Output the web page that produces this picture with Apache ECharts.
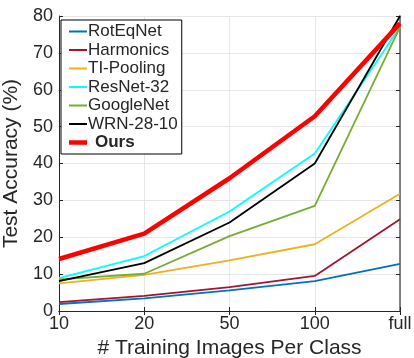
<!DOCTYPE html>
<html>
<head>
<meta charset="utf-8">
<script src="https://cdn.jsdelivr.net/npm/echarts@6/dist/echarts.min.js"></script>
<style>
  html, body { margin: 0; padding: 0; background: #fff; }
  #main { width: 414px; height: 358px; }
</style>
</head>
<body>
<div id="main"></div>
<script>
// categories and series values
const categories = ['10', '20', '50', '100', 'full']
const rotEqNet = [1.9, 3.4, 5.6, 8.1, 12.8]
const harmonics = [2.4, 4.1, 6.5, 9.5, 24.9]
const tiPooling = [7.5, 9.8, 13.7, 18.1, 31.8]
const resNet32 = [8.9, 14.9, 27.0, 42.7, 77.0]
const googleNet = [8.6, 10.1, 20.3, 28.5, 77.0]
const wrn2810 = [8.1, 13.0, 24.0, 40.0, 80.0]
const ours = [14.1, 21.0, 36.0, 52.8, 78.0]

const font = 'Liberation Sans, Arial, Helvetica, sans-serif'
const textColor = '#262626'
const thinIcon = 'path://M0,0H18V2H0Z'
const thickIcon = 'path://M0,0H18V4.5H0Z'

function line (name, data, color, width) {
  return {
    name: name,
    type: 'line',
    data: data,
    symbol: 'none',
    showSymbol: false,
    lineStyle: { color: color, width: width },
    itemStyle: { color: color },
    z: width > 3 ? 10 : 3
  }
}

const chart = echarts.init(document.getElementById('main'))
chart.setOption({
  animation: false,
  textStyle: { fontFamily: font },
  grid: { left: 59, right: 14, top: 16, bottom: 47, containLabel: false, outerBoundsMode: 'none' },
  legend: {
    orient: 'vertical',
    left: 61,
    top: 20,
    itemWidth: 18,
    itemHeight: 14,
    itemGap: 1.5,
    padding: [3, 4, 3, 8],
    borderColor: '#000',
    borderWidth: 1,
    borderRadius: 0,
    backgroundColor: '#fff',
    textStyle: { fontFamily: font, fontSize: 17, lineHeight: 17, color: textColor, padding: [0, 0, 0, -4] },
    data: [
      { name: 'RotEqNet', icon: thinIcon },
      { name: 'Harmonics', icon: thinIcon },
      { name: 'TI-Pooling', icon: thinIcon },
      { name: 'ResNet-32', icon: thinIcon },
      { name: 'GoogleNet', icon: thinIcon },
      { name: 'WRN-28-10', icon: thinIcon },
      { name: 'Ours', icon: thickIcon, textStyle: { fontWeight: 'bold', padding: [0, 0, 0, 3] } }
    ]
  },
  xAxis: [
    {
      type: 'category',
      data: categories,
      boundaryGap: false,
      name: '# Training Images Per Class',
      nameLocation: 'middle',
      nameGap: 23,
      nameTextStyle: { fontSize: 21, color: textColor },
      axisLine: { lineStyle: { color: '#262626', width: 1 } },
      axisTick: { inside: true, length: 4, lineStyle: { color: '#262626' } },
      axisLabel: { fontSize: 18, color: textColor, margin: 4 },
      splitLine: { show: true, lineStyle: { color: '#e6e6e6', width: 1 } }
    },
    {
      type: 'category',
      data: categories,
      boundaryGap: false,
      position: 'top',
      axisLine: { lineStyle: { color: '#262626', width: 1 } },
      axisTick: { inside: true, length: 4, lineStyle: { color: '#262626' } },
      axisLabel: { show: false },
      splitLine: { show: false }
    }
  ],
  yAxis: [
    {
      type: 'value',
      min: 0,
      max: 80,
      interval: 10,
      name: 'Test Accuracy (%)',
      nameLocation: 'middle',
      nameGap: 26,
      nameTextStyle: { fontSize: 21, color: textColor },
      axisLine: { show: true, lineStyle: { color: '#262626', width: 1 } },
      axisTick: { show: true, inside: true, length: 4, lineStyle: { color: '#262626' } },
      axisLabel: { fontSize: 18, color: textColor, margin: 6 },
      splitLine: { show: true, lineStyle: { color: '#e6e6e6', width: 1 } }
    },
    {
      type: 'value',
      min: 0,
      max: 80,
      interval: 10,
      position: 'right',
      axisLine: { show: true, lineStyle: { color: '#5a5a5a', width: 1.5 } },
      axisTick: { show: true, inside: true, length: 4, lineStyle: { color: '#262626' } },
      axisLabel: { show: false },
      splitLine: { show: false }
    }
  ],
  series: [
    line('RotEqNet', rotEqNet, '#0072BD', 1.8),
    line('Harmonics', harmonics, '#A2142F', 1.8),
    line('TI-Pooling', tiPooling, '#EDB120', 1.8),
    line('ResNet-32', resNet32, '#00FFFF', 1.8),
    line('GoogleNet', googleNet, '#77AC30', 1.8),
    line('WRN-28-10', wrn2810, '#000000', 1.8),
    line('Ours', ours, '#FF0000', 4.5)
  ]
})
</script>
</body>
</html>
